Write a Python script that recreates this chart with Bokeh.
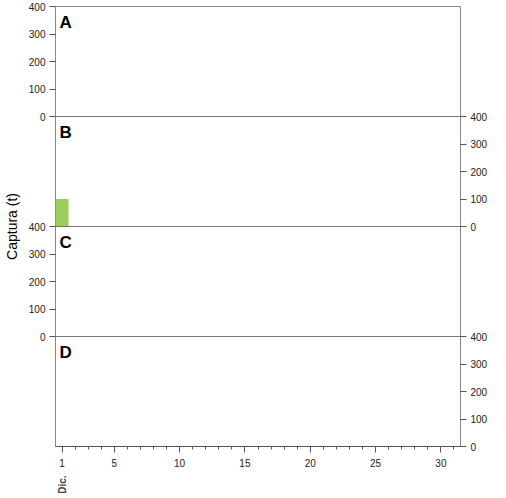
import math
from bokeh.plotting import figure
from bokeh.models import FixedTicker, LinearAxis, Span, Label, Range1d
from bokeh.embed import file_html
from bokeh.resources import INLINE

# datos: captura diaria (t) en diciembre por panel
paneles = ["A", "B", "C", "D"]
dias = [1]
captura_B = [100]
ticks_y = [0, 100, 200, 300, 400]
ticks_x = [1, 5, 10, 15, 20, 25, 30]
mes = "Dic."

offsets = {"A": 1200, "B": 800, "C": 400, "D": 0}

p = figure(width=490, frame_height=440, x_range=Range1d(0.5, 31.5),
           y_range=Range1d(0, 1600), output_backend="svg", toolbar_location=None,
           min_border_left=10, min_border_right=4, min_border_top=6, min_border_bottom=4)
p.grid.visible = False
p.outline_line_color = "#888888"
p.background_fill_color = "white"

p.vbar(x=dias, top=[v + offsets["B"] for v in captura_B], bottom=offsets["B"], width=1,
       fill_color="#9ACD5A", line_color=None)

for y0 in [400, 800, 1200]:
    p.add_layout(Span(location=y0, dimension="width", line_color="#777777", line_width=1))


def estilo(a):
    a.axis_line_color = None
    a.major_tick_line_color = "#555555"
    a.major_tick_in = 0
    a.major_tick_out = 6
    a.major_label_text_font_size = "10px"
    a.major_label_text_font = "Liberation Sans"
    a.major_label_text_color = "#222222"
    a.major_label_standoff = 4


# eje izquierdo: paneles A y C
left_ticks = [t + offsets["A"] for t in ticks_y] + [t + offsets["C"] for t in ticks_y]
ax = p.yaxis[0]
ax.ticker = FixedTicker(ticks=left_ticks, minor_ticks=[])
ax.major_label_overrides = {t + offsets[k]: str(t) for k in ["A", "C"] for t in ticks_y}
ax.axis_label = "Captura (t)"
ax.axis_label_text_font_style = "normal"
ax.axis_label_text_font_size = "14px"
ax.axis_label_text_font = "Liberation Sans"
ax.axis_label_text_color = "black"
ax.axis_label_standoff = 6
estilo(ax)

# eje derecho: paneles B y D
right_ticks = [t + offsets["B"] for t in ticks_y] + [t + offsets["D"] for t in ticks_y]
rax = LinearAxis(ticker=FixedTicker(ticks=right_ticks, minor_ticks=[]),
                 major_label_overrides={t + offsets[k]: str(t) for k in ["B", "D"] for t in ticks_y})
estilo(rax)
p.add_layout(rax, "right")

# eje x
xa = p.xaxis[0]
xa.ticker = FixedTicker(ticks=ticks_x, minor_ticks=list(range(1, 32)))
estilo(xa)
xa.axis_line_color = "#555555"
xa.minor_tick_line_color = "#555555"
xa.minor_tick_in = 0
xa.minor_tick_out = 3
xa.major_label_standoff = 6

# etiqueta del mes bajo el día 1
mx = LinearAxis(ticker=FixedTicker(ticks=[1], minor_ticks=[]),
                major_label_overrides={1: mes}, major_label_orientation=math.pi / 2,
                axis_line_color=None, major_tick_line_color=None,
                major_label_text_font_size="10px", major_label_text_font_style="bold",
                major_label_text_font="Liberation Sans", major_label_standoff=0)
p.add_layout(mx, "below")

for k in paneles:
    p.add_layout(Label(x=0.8, y=offsets[k] + 400, text=k, text_baseline="top", y_offset=-6,
                       text_font_size="17px", text_font_style="bold",
                       text_font="Liberation Sans", text_color="black"))

open("out.html", "w").write(file_html(p, INLINE))
